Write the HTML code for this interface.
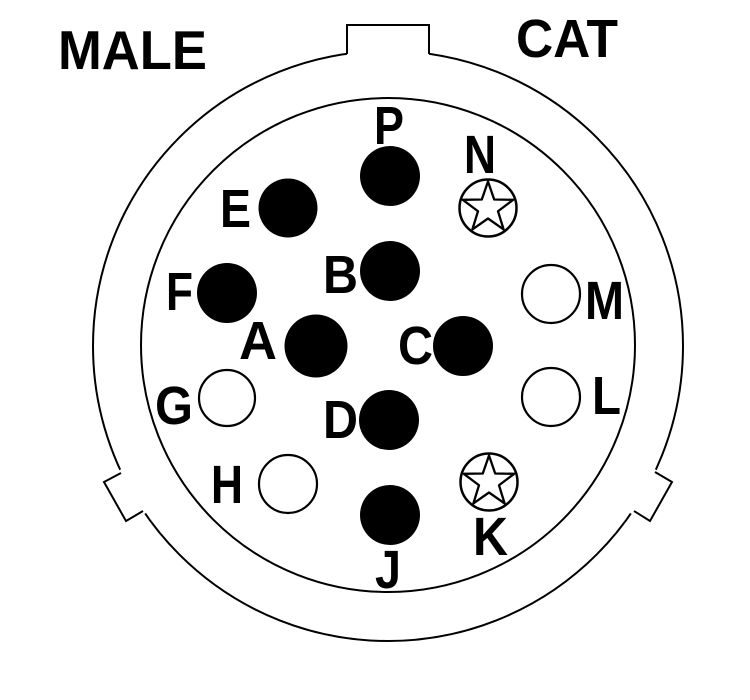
<!DOCTYPE html>
<html><head><meta charset="utf-8"><style>
html,body{margin:0;padding:0;background:#fff;}
svg{display:block;}
text{font-family:"Liberation Sans",Arial,sans-serif;font-weight:bold;fill:#000;}
</style></head><body>
<svg width="750" height="700" viewBox="0 0 750 700" xmlns="http://www.w3.org/2000/svg">
<defs>
<g id="star"><circle cx="0" cy="0" r="28.5" fill="#fff" stroke="#000" stroke-width="2.5"/>
<polygon points="0,-26.5 6.2,-8.5 25.2,-8.2 10,3.25 15.6,21.4 0,10.5 -15.6,21.4 -10,3.25 -25.2,-8.2 -6.2,-8.5" fill="none" stroke="#000" stroke-width="2.3" stroke-linejoin="round"/></g>
</defs>
<!-- outer shell -->
<circle cx="388" cy="346" r="295" fill="none" stroke="#000" stroke-width="2"/>
<!-- top key -->
<rect x="347" y="20" width="82" height="40" fill="#fff"/>
<polyline points="347,54 347,25 429,25 429,54" fill="none" stroke="#000" stroke-width="2"/>
<!-- left key -->
<polygon points="123,468 102,481 125,525 146,513" fill="#fff"/>
<polyline points="121,473 104,482 126,521 143,511" fill="none" stroke="#000" stroke-width="2"/>
<!-- right key -->
<polygon points="653,468 674,481 651,525 630,513" fill="#fff"/>
<polyline points="655,472 672,482 650,521 634,511" fill="none" stroke="#000" stroke-width="2"/>
<!-- inner circle -->
<circle cx="388" cy="345" r="247" fill="none" stroke="#000" stroke-width="2"/>

<!-- filled pins -->
<circle cx="390" cy="176" r="30"/>
<circle cx="288" cy="208" r="29.5"/>
<circle cx="390" cy="271" r="30"/>
<circle cx="227" cy="293" r="30"/>
<circle cx="316" cy="346" r="31.5"/>
<circle cx="463" cy="346" r="30"/>
<circle cx="389" cy="420" r="30"/>
<circle cx="390" cy="515" r="30"/>
<!-- open pins -->
<g fill="#fff" stroke="#000" stroke-width="2.2">
<circle cx="227" cy="398" r="28"/>
<circle cx="288" cy="484" r="29"/>
<circle cx="551" cy="397" r="29"/>
<circle cx="551" cy="294" r="29"/>
</g>
<use href="#star" x="488" y="208"/>
<use href="#star" x="489" y="482"/>

<!-- labels -->
<text x="58" y="69" font-size="55" textLength="149" lengthAdjust="spacingAndGlyphs">MALE</text>
<text x="516" y="57" font-size="54" textLength="102" lengthAdjust="spacingAndGlyphs">CAT</text>
<g font-size="54">
<text x="374" y="144" textLength="30" lengthAdjust="spacingAndGlyphs">P</text>
<text x="464" y="173" textLength="32" lengthAdjust="spacingAndGlyphs">N</text>
<text x="220" y="227" textLength="31" lengthAdjust="spacingAndGlyphs">E</text>
<text x="166" y="310" textLength="27" lengthAdjust="spacingAndGlyphs">F</text>
<text x="323" y="293" textLength="35" lengthAdjust="spacingAndGlyphs">B</text>
<text x="585" y="319" textLength="39" lengthAdjust="spacingAndGlyphs">M</text>
<text x="239" y="359" textLength="38" lengthAdjust="spacingAndGlyphs">A</text>
<text x="398" y="364" textLength="35" lengthAdjust="spacingAndGlyphs">C</text>
<text x="155" y="424" textLength="38" lengthAdjust="spacingAndGlyphs">G</text>
<text x="323" y="438" textLength="35" lengthAdjust="spacingAndGlyphs">D</text>
<text x="592" y="414" textLength="29" lengthAdjust="spacingAndGlyphs">L</text>
<text x="211" y="503" textLength="32" lengthAdjust="spacingAndGlyphs">H</text>
<text x="473" y="555" textLength="35" lengthAdjust="spacingAndGlyphs">K</text>
<text x="375" y="588" textLength="26" lengthAdjust="spacingAndGlyphs">J</text>
</g>
</svg>
</body></html>
